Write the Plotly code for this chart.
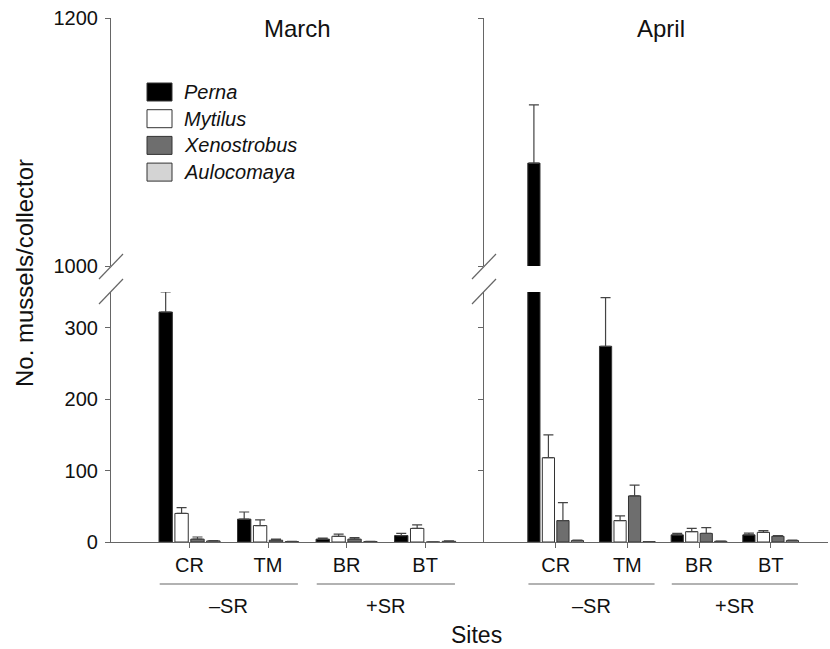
import plotly.graph_objects as go

# ---- data ----
sites = ["CR", "TM", "BR", "BT"]
groups = ["–SR", "+SR"]
months = ["March", "April"]
species = ["Perna", "Mytilus", "Xenostrobus", "Aulocomaya"]

march_perna = [322, 32, 4, 9]
march_perna_se = [28, 10, 1.5, 3]
march_mytilus = [40, 23, 8, 19]
march_mytilus_se = [8, 8, 3, 5]
march_xeno = [4, 2.5, 4, 0]
march_xeno_se = [3, 1.5, 2, 0]
march_aulo = [1.5, 0.5, 0.5, 1]
march_aulo_se = [0.5, 0.3, 0.3, 0.5]

april_perna = [1083, 274, 10, 10]
april_perna_se = [47, 68, 2, 2.5]
april_mytilus = [118, 30, 14.5, 13.5]
april_mytilus_se = [32, 6.5, 4.5, 2.5]
april_xeno = [30, 64.5, 12, 8]
april_xeno_se = [25, 15, 8, 1]
april_aulo = [2, 0.5, 1, 2]
april_aulo_se = [0.5, 0.2, 0.3, 0.5]

lower_ticks = [0, 100, 200, 300]
upper_ticks = [1000, 1200]

# ---- styling ----
W, H = 830, 649
FONT = "Liberation Sans, Arial, sans-serif"
fills = ["#000000", "#ffffff", "#6e6e6e", "#d4d4d4"]
edge = "#333333"
axc = "#666666"


def px_x(p):
    return p / W


def px_y(p):
    return 1 - p / H


march_series = [(march_perna, march_perna_se), (march_mytilus, march_mytilus_se),
                (march_xeno, march_xeno_se), (march_aulo, march_aulo_se)]
april_series = [(april_perna, april_perna_se), (april_mytilus, april_mytilus_se),
                (april_xeno, april_xeno_se), (april_aulo, april_aulo_se)]

fig = go.Figure()

panels = [("x", "y", "y2", march_series), ("x2", "y3", "y4", april_series)]
for xa, ylo, yhi, series in panels:
    for ya in (ylo, yhi):
        for (vals, se), name, col in zip(series, species, fills):
            fig.add_trace(go.Bar(
                x=sites, y=vals, name=name, xaxis=xa, yaxis=ya,
                offsetgroup=name, showlegend=False,
                marker=dict(color=col, line=dict(color=edge, width=1)),
                error_y=dict(type="data", symmetric=False, array=se,
                             arrayminus=[0] * len(se), color="#444444",
                             thickness=1.2, width=5),
            ))

x1dom = [px_x(111), px_x(484)]
x2dom = [px_x(484), px_x(828)]
ylodom = [px_y(542), px_y(292)]
yhidom = [px_y(266), px_y(18)]

common_x = dict(type="category", showline=True, linecolor=axc, linewidth=1.2,
                ticks="outside", ticklen=5, tickcolor=axc, showgrid=False,
                zeroline=False, automargin=False,
                tickfont=dict(family=FONT, size=20, color="#111"))
common_y = dict(showline=True, linecolor=axc, linewidth=1.2, ticks="outside",
                ticklen=5, tickcolor=axc, showgrid=False, zeroline=False,
                automargin=False, ticklabelstandoff=3,
                tickfont=dict(family=FONT, size=20, color="#111"))

fig.update_layout(
    width=W, height=H, margin=dict(l=0, r=0, t=0, b=0, autoexpand=False),
    paper_bgcolor="white", plot_bgcolor="white",
    barmode="group", bargap=0.19, bargroupgap=0.16,
    xaxis=dict(common_x, domain=x1dom, anchor="y", range=[-1, 3.75]),
    xaxis2=dict(common_x, domain=x2dom, anchor="y3", range=[-1, 3.8]),
    yaxis=dict(common_y, domain=ylodom, anchor="x", range=[0, 350],
               tickvals=lower_ticks),
    yaxis2=dict(common_y, domain=yhidom, anchor="x", range=[1000, 1200],
                tickvals=upper_ticks),
    yaxis3=dict(common_y, domain=ylodom, anchor="x2", range=[0, 350],
                tickvals=lower_ticks, showticklabels=False),
    yaxis4=dict(common_y, domain=yhidom, anchor="x2", range=[1000, 1200],
                tickvals=upper_ticks, showticklabels=False),
    showlegend=False,
)

shapes = []
annotations = []

# axis break marks
for axx in (111, 484):
    for cy in (266.5, 291.5):
        shapes.append(dict(type="line", xref="paper", yref="paper",
                           x0=px_x(axx - 12), y0=px_y(cy + 12.5),
                           x1=px_x(axx + 12), y1=px_y(cy - 12.5),
                           line=dict(color=axc, width=1.2)))

# group lines and labels
for xref in ("x", "x2"):
    for gi, g in enumerate(groups):
        a = 2 * gi
        shapes.append(dict(type="line", xref=xref, yref="paper",
                           x0=a - 0.38, x1=a + 1.38, y0=px_y(584), y1=px_y(584),
                           line=dict(color=axc, width=1.2)))
        annotations.append(dict(text=g, xref=xref, yref="paper", x=a + 0.5,
                                y=px_y(606), showarrow=False, xanchor="center",
                                yanchor="middle",
                                font=dict(family=FONT, size=20, color="#111")))

# month titles
for m, cx in zip(months, (297, 661)):
    annotations.append(dict(text=m, xref="paper", yref="paper", x=px_x(cx),
                            y=px_y(28), showarrow=False, xanchor="center",
                            yanchor="middle",
                            font=dict(family=FONT, size=24, color="#111")))

# axis titles
annotations.append(dict(text="Sites", xref="paper", yref="paper", x=px_x(476),
                        y=px_y(635), showarrow=False, xanchor="center",
                        yanchor="middle",
                        font=dict(family=FONT, size=23, color="#111")))
annotations.append(dict(text="No. mussels/collector", xref="paper", yref="paper",
                        x=px_x(24), y=px_y(273), showarrow=False, textangle=-90,
                        xanchor="center", yanchor="middle",
                        font=dict(family=FONT, size=24, color="#111")))

# legend
for i, (name, col) in enumerate(zip(species, fills)):
    cy = 92 + i * 26.7
    shapes.append(dict(type="rect", xref="paper", yref="paper",
                       x0=px_x(147), x1=px_x(172), y0=px_y(cy + 9), y1=px_y(cy - 9),
                       fillcolor=col, line=dict(color=edge, width=1)))
    annotations.append(dict(text=f"<i>{name}</i>", xref="paper", yref="paper",
                            x=px_x(182), y=px_y(cy), showarrow=False,
                            xanchor="left", yanchor="middle",
                            font=dict(family=FONT, size=20, color="#111")))

fig.update_layout(shapes=shapes, annotations=annotations)

fig.write_html("out.html", config={"displayModeBar": False},
               post_script="document.body.style.margin='0px';"
                           "document.body.style.padding='0px';")
